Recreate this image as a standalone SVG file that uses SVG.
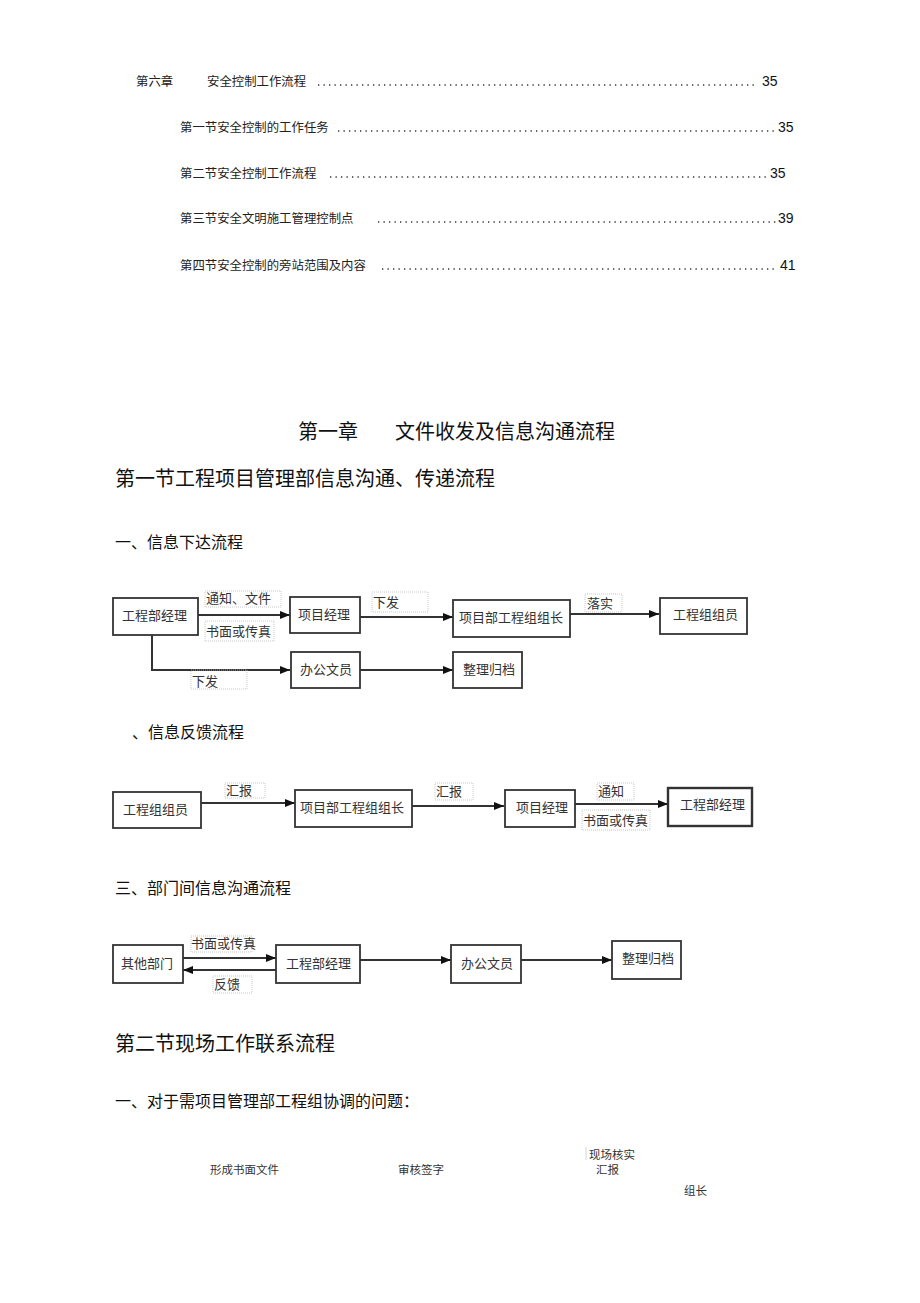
<svg xmlns="http://www.w3.org/2000/svg" width="920" height="1303" viewBox="0 0 920 1303">
<defs>
<marker id="ah" markerWidth="10" markerHeight="8" refX="10" refY="4" orient="auto" markerUnits="userSpaceOnUse">
<path d="M0,0 L10,4 L0,8 Z" fill="#111"/>
</marker>
<style>
text{font-family:"Liberation Serif","Noto Sans CJK SC",serif;fill:#222}
.toc{font-size:12.4px}
.num{font-family:"Liberation Sans","Noto Sans CJK SC",sans-serif;font-size:14px;fill:#111}
.dots{stroke:#333;stroke-width:1.3;stroke-dasharray:1.3 4.2}
.h1{font-size:20px;fill:#111}
.h3{font-size:16px;fill:#111}
.node rect{fill:#fff;stroke:#333;stroke-width:1.8}
.node text{font-size:13px;fill:#333}
.lbl rect{fill:none;stroke:#bbb;stroke-width:0.8;stroke-dasharray:1 1}
.lbl text{font-size:13px;fill:#333}
.conn line,.conn polyline{stroke:#333;stroke-width:2;fill:none}
.small{font-size:11.5px;fill:#333}
</style>
</defs>
<rect width="920" height="1303" fill="#fff"/>

<g id="toc">
<text class="toc" x="136" y="86">第六章</text>
<text class="toc" x="207" y="86">安全控制工作流程</text>
<line class="dots" x1="318" y1="85" x2="758" y2="85"/>
<text class="num" x="762" y="86">35</text>
<text class="toc" x="180" y="132">第一节安全控制的工作任务</text>
<line class="dots" x1="338" y1="131" x2="776" y2="131"/>
<text class="num" x="778" y="132">35</text>
<text class="toc" x="180" y="178">第二节安全控制工作流程</text>
<line class="dots" x1="330" y1="177" x2="768" y2="177"/>
<text class="num" x="770" y="178">35</text>
<text class="toc" x="180" y="223">第三节安全文明施工管理控制点</text>
<line class="dots" x1="378" y1="222" x2="776" y2="222"/>
<text class="num" x="778" y="223">39</text>
<text class="toc" x="180" y="270">第四节安全控制的旁站范围及内容</text>
<line class="dots" x1="382" y1="269" x2="778" y2="269"/>
<text class="num" x="780" y="270">41</text>
</g>

<g id="headings">
<text class="h1" x="298" y="439">第一章</text>
<text class="h1" x="395" y="439">文件收发及信息沟通流程</text>
<text class="h1" x="115" y="486">第一节工程项目管理部信息沟通、传递流程</text>
<text class="h3" x="115" y="548">一、信息下达流程</text>
<text class="h3" x="132" y="738">、信息反馈流程</text>
<text class="h3" x="115" y="894">三、部门间信息沟通流程</text>
<text class="h1" x="115" y="1051">第二节现场工作联系流程</text>
<text class="h3" x="115" y="1107">一、对于需项目管理部工程组协调的问题：</text>
</g>

<g id="connectors" class="conn">
<line x1="198" y1="615" x2="290" y2="615" marker-end="url(#ah)"/>
<line x1="360" y1="617" x2="453" y2="617" marker-end="url(#ah)"/>
<line x1="570" y1="614" x2="659" y2="614" marker-end="url(#ah)"/>
<polyline points="152,635 152,670 290,670" marker-end="url(#ah)"/>
<line x1="360" y1="670" x2="453" y2="670" marker-end="url(#ah)"/>
<line x1="201" y1="803" x2="295" y2="803" marker-end="url(#ah)"/>
<line x1="412" y1="806" x2="504" y2="806" marker-end="url(#ah)"/>
<line x1="575" y1="804" x2="668" y2="804" marker-end="url(#ah)"/>
<line x1="183" y1="958" x2="276" y2="958" marker-end="url(#ah)"/>
<line x1="276" y1="970" x2="183" y2="970" marker-end="url(#ah)"/>
<line x1="360" y1="960" x2="451" y2="960" marker-end="url(#ah)"/>
<line x1="521" y1="960" x2="612" y2="960" marker-end="url(#ah)"/>
</g>

<g id="labels">
<g class="lbl"><rect x="205" y="591" width="76" height="16"/><text x="206" y="603">通知、文件</text></g>
<g class="lbl"><rect x="205" y="621" width="69" height="20"/><text x="206" y="636">书面或传真</text></g>
<g class="lbl"><rect x="372" y="592" width="56" height="20"/><text x="373" y="607">下发</text></g>
<g class="lbl"><rect x="585" y="594" width="37" height="18"/><text x="587" y="608">落实</text></g>
<g class="lbl"><rect x="191" y="670" width="56" height="19"/><text x="192" y="686">下发</text></g>
<g class="lbl"><rect x="225" y="783" width="40" height="15"/><text x="226" y="795">汇报</text></g>
<g class="lbl"><rect x="435" y="783" width="38" height="17"/><text x="436" y="796">汇报</text></g>
<g class="lbl"><rect x="597" y="783" width="37" height="17"/><text x="598" y="796">通知</text></g>
<g class="lbl"><rect x="582" y="810" width="68" height="20"/><text x="583" y="825">书面或传真</text></g>
<g class="lbl"><rect x="191" y="936" width="61" height="16"/><text x="191" y="948">书面或传真</text></g>
<g class="lbl"><rect x="213" y="976" width="39" height="17"/><text x="214" y="989">反馈</text></g>
</g>

<g id="n1" class="node"><rect x="113" y="598" width="85" height="37"/><text x="122" y="620">工程部经理</text></g>
<g id="n2" class="node"><rect x="290" y="597" width="70" height="36"/><text x="298" y="619">项目经理</text></g>
<g id="n3" class="node"><rect x="453" y="600" width="117" height="37"/><text x="459" y="622">项目部工程组组长</text></g>
<g id="n4" class="node"><rect x="660" y="598" width="87" height="36"/><text x="673" y="619">工程组组员</text></g>
<g id="n5" class="node"><rect x="291" y="652" width="69" height="36"/><text x="300" y="674">办公文员</text></g>
<g id="n6" class="node"><rect x="453" y="652" width="69" height="36"/><text x="463" y="674">整理归档</text></g>

<g id="n7" class="node"><rect x="113" y="792" width="88" height="36"/><text x="123" y="814">工程组组员</text></g>
<g id="n8" class="node"><rect x="295" y="790" width="117" height="37"/><text x="300" y="812">项目部工程组组长</text></g>
<g id="n9" class="node"><rect x="505" y="790" width="70" height="37"/><text x="516" y="812">项目经理</text></g>
<g id="n10" class="node"><rect x="668" y="788" width="84" height="38" style="stroke-width:2.4"/><text x="680" y="809">工程部经理</text></g>

<g id="n11" class="node"><rect x="113" y="945" width="70" height="38"/><text x="121" y="968">其他部门</text></g>
<g id="n12" class="node"><rect x="276" y="945" width="84" height="38"/><text x="286" y="968">工程部经理</text></g>
<g id="n13" class="node"><rect x="451" y="945" width="70" height="38"/><text x="461" y="968">办公文员</text></g>
<g id="n14" class="node"><rect x="612" y="941" width="69" height="38"/><text x="622" y="963">整理归档</text></g>

<g id="bottom">
<text class="small" x="210" y="1174">形成书面文件</text>
<text class="small" x="398" y="1174">审核签字</text>
<line x1="586" y1="1147" x2="586" y2="1160" stroke="#ccc" stroke-width="0.8"/>
<text class="small" x="589" y="1159">现场核实</text>
<text class="small" x="596" y="1174">汇报</text>
<text class="small" x="684" y="1195">组长</text>
</g>
</svg>
